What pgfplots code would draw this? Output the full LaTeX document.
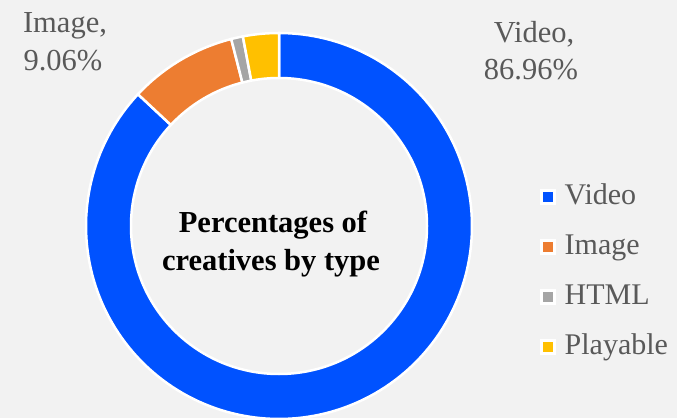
\documentclass[border=0pt]{standalone}
\usepackage{fontspec}
\setmainfont{Liberation Serif}
\usepackage{pgfplots}
\usepackage{pgfplotstable}
\pgfplotsset{compat=1.18}
\definecolor{bgcol}{HTML}{F2F2F2}
\definecolor{txtgrey}{HTML}{595959}
\definecolor{cvideo}{HTML}{0052FF}
\definecolor{cimage}{HTML}{ED7D31}
\definecolor{chtml}{HTML}{A5A5A5}
\definecolor{cplay}{HTML}{FFC000}

\pgfplotstableread{
label value
Video 86.96
Image 9.06
HTML 0.98
Playable 3.00
}\datatable
\pgfplotstablegetelem{0}{value}\of\datatable \let\vA\pgfplotsretval
\pgfplotstablegetelem{1}{value}\of\datatable \let\vB\pgfplotsretval
\pgfplotstablegetelem{2}{value}\of\datatable \let\vC\pgfplotsretval
\pgfplotstablegetelem{3}{value}\of\datatable \let\vD\pgfplotsretval
\pgfmathsetmacro\aA{90}
\pgfmathsetmacro\aB{\aA-3.6*\vA}
\pgfmathsetmacro\aC{\aB-3.6*\vB}
\pgfmathsetmacro\aD{\aC-3.6*\vC}
\pgfmathsetmacro\aE{\aD-3.6*\vD}
\def\cx{279}\def\cy{192}\def\R{193}\def\r{148}

\begin{document}%
\begin{tikzpicture}
\useasboundingbox (0,0) rectangle (677pt,418pt);
\fill[bgcol] (0,0) rectangle (677pt,418pt);
\begin{axis}[
  width=677pt, height=418pt, scale only axis,
  xmin=0, xmax=677, ymin=0, ymax=418,
  hide axis, clip=true,
  legend style={draw=none, fill=none, at={(axis cs:540,146)}, anchor=west,
    font=\fontsize{30}{36}\selectfont, text=txtgrey,
    row sep=22pt, column sep=9pt, inner sep=0pt,
    nodes={inner sep=0pt, text height=21pt, text depth=7pt}},
  legend cell align=left,
  legend image code/.code={\filldraw[#1, line width=2.5pt] (0pt,-6.5pt) rectangle (13pt,6.5pt);},
  every axis plot/.append style={draw=white, line width=2.5pt, samples=180, variable=\t},
]
\addplot[fill=cvideo, domain=\aB:\aA] ({\cx+\R*cos(\t)},{\cy+\R*sin(\t)}) -- (axis cs:\cx,\cy) -- cycle;
\addlegendentry{Video}
\addplot[fill=cimage, domain=\aC:\aB] ({\cx+\R*cos(\t)},{\cy+\R*sin(\t)}) -- (axis cs:\cx,\cy) -- cycle;
\addlegendentry{Image}
\addplot[fill=chtml, domain=\aD:\aC, samples=20] ({\cx+\R*cos(\t)},{\cy+\R*sin(\t)}) -- (axis cs:\cx,\cy) -- cycle;
\addlegendentry{HTML}
\addplot[fill=cplay, domain=\aE:\aD, samples=30] ({\cx+\R*cos(\t)},{\cy+\R*sin(\t)}) -- (axis cs:\cx,\cy) -- cycle;
\addlegendentry{Playable}
\filldraw[fill=bgcol, draw=white, line width=2.5pt] (axis cs:\cx,\cy) circle[radius=\r];
\node[anchor=base, font=\fontsize{30.5}{36}\selectfont\bfseries] at (axis cs:273,185) {Percentages of};
\node[anchor=base, font=\fontsize{30.5}{36}\selectfont\bfseries] at (axis cs:271,148) {creatives by type};
\node[anchor=base, font=\fontsize{30.5}{36}\selectfont, text=txtgrey] at (axis cs:65,385) {Image,};
\node[anchor=base, font=\fontsize{30.5}{36}\selectfont, text=txtgrey] at (axis cs:63,347) {9.06\%};
\node[anchor=base, font=\fontsize{30.5}{36}\selectfont, text=txtgrey] at (axis cs:534,375) {Video,};
\node[anchor=base, font=\fontsize{30.5}{36}\selectfont, text=txtgrey] at (axis cs:531,338) {86.96\%};
\end{axis}
\end{tikzpicture}%
\end{document}
